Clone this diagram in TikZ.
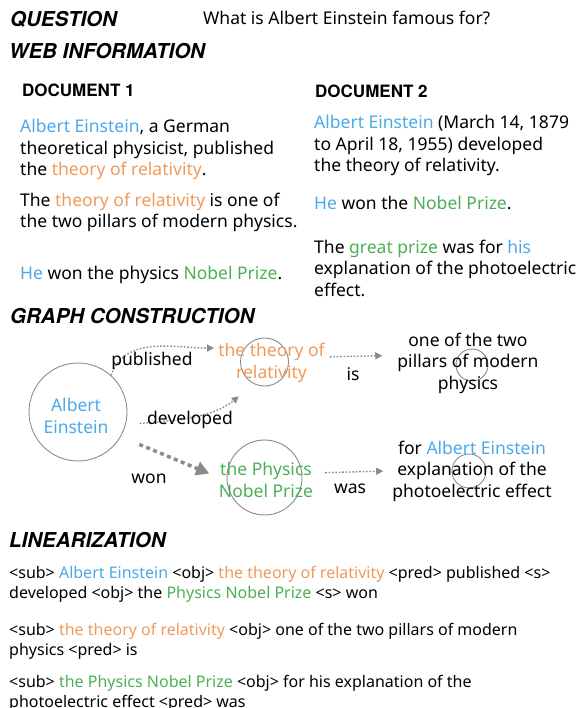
\documentclass[tikz,border=0pt]{standalone}
\usepackage{fontspec}
\setmainfont{Noto Sans}
\newfontfamily\headfont{TeX Gyre Heros}
\usepackage{tikz}
\usetikzlibrary{arrows.meta}

\definecolor{aeblue}{HTML}{4DA9E6}
\definecolor{relorange}{HTML}{EE9A5B}
\definecolor{prizegreen}{HTML}{4DAF55}
\definecolor{edgegray}{HTML}{8A8A8A}

\newcommand{\einst}[1]{\textcolor{aeblue}{#1}}
\newcommand{\theo}[1]{\textcolor{relorange}{#1}}
\newcommand{\prz}[1]{\textcolor{prizegreen}{#1}}

\begin{document}
\begin{tikzpicture}[x=1pt, y=1pt, >={Triangle[length=7pt,width=7pt]},
  head/.style={anchor=base west, inner sep=0pt, font=\headfont\bfseries\itshape\fontsize{20.5}{24}\selectfont},
  dochead/.style={anchor=base west, inner sep=0pt, font=\headfont\bfseries\fontsize{17}{20}\selectfont},
  para/.style={anchor=base west, inner sep=0pt, align=left, font=\fontsize{17.5}{21.5}\selectfont},
  lin/.style={anchor=base west, inner sep=0pt, align=left, font=\fontsize{16}{20}\selectfont},
  gtext/.style={anchor=base, inner sep=1pt, align=center, font=\fontsize{17.5}{21.5}\selectfont},
  ring/.style={circle, draw=edgegray, line width=0.9pt, inner sep=0pt},
  rel/.style={->, draw=edgegray, line width=1.4pt, dash pattern=on 1.6pt off 1.8pt},
  wonrel/.style={-{Triangle[length=13pt,width=14pt]}, draw=edgegray, line width=3.5pt, dash pattern=on 4pt off 3.5pt}]
  \useasboundingbox (0,0) rectangle (584,-708);

  % Question
  \node[head] (qhead) at (10,-27) {QUESTION};
  \node[anchor=base west, inner sep=0pt, font=\fontsize{17.5}{21.5}\selectfont] (qtext) at (203,-25) {What is Albert Einstein famous for?};

  % Web information (multi-line nodes sit on their last baseline)
  \node[head] (webhead) at (9,-59) {WEB INFORMATION};
  \node[dochead] (doc1) at (22,-97) {DOCUMENT 1};
  \node[dochead] (doc2) at (315,-98) {DOCUMENT 2};

  \node[para] (d1a) at (20,-176) {\einst{Albert Einstein}, a German\\theoretical physicist, published\\the \theo{theory of relativity}.};
  \node[para] (d1b) at (20,-228) {The \theo{theory of relativity} is one of\\the two pillars of modern physics.};
  \node[para] (d1c) at (20,-279) {\einst{He} won the physics \prz{Nobel Prize}.};

  \node[para] (d2a) at (314,-172) {\einst{Albert Einstein} (March 14, 1879\\to April 18, 1955) developed\\the theory of relativity.};
  \node[para] (d2b) at (314,-210) {\einst{He} won the \prz{Nobel Prize}.};
  \node[para] (d2c) at (314,-296) {The \prz{great prize} was for \einst{his}\\explanation of the photoelectric\\effect.};

  % Graph construction
  \node[head] (graphhead) at (10,-323) {GRAPH CONSTRUCTION};

  \node[ring, minimum size=98pt] (aec) at (78,-412) {};
  \node[ring, minimum size=48pt] (thc) at (264.5,-362) {};
  \node[ring, minimum size=75pt] (npc) at (264.5,-477.5) {};
  \node[ring, minimum size=32pt] (pilc) at (472,-365) {};
  \node[ring, minimum size=34pt] (expc) at (469,-471) {};

  \node[gtext, text=aeblue] (ae) at (76,-433) {Albert\\Einstein};
  \node[gtext, text=relorange] (thr) at (271.5,-378) {the theory of\\relativity};
  \node[gtext, text=prizegreen] (np) at (266,-497) {the Physics\\Nobel Prize};
  \node[gtext] (pil) at (468,-389) {one of the two\\pillars of modern\\physics};
  \node[gtext] (expl) at (472,-497) {for \einst{Albert Einstein}\\explanation of the\\photoelectric effect};

  % Relations
  \draw[rel, shorten >=3pt] (aec.48) to[out=70, in=180] (thr.165);
  \draw[rel, shorten <=14pt, shorten >=20pt] (aec.-15) to[out=5, in=220] (thr.-130);
  \draw[wonrel, shorten <=20pt, shorten >=19pt] (aec.-30) -- (npc.185);
  \draw[rel, shorten <=4pt, shorten >=14pt] (thr.6) -- (pil.174);
  \draw[rel, shorten <=11pt, shorten >=8pt] (np.8) -- (expl.west);

  \node[gtext] (publ) at (152,-365) {published};
  \node[gtext] (devl) at (190,-424) {developed};
  \node[gtext] (wonl) at (149,-483) {won};
  \node[gtext] (isl) at (353,-380) {is};
  \node[gtext] (wasl) at (350,-493) {was};

  % Linearization
  \node[head] (linhead) at (9,-547) {LINEARIZATION};
  \node[lin] (lin1) at (9,-598) {<sub> \einst{Albert Einstein} <obj> \theo{the theory of relativity} <pred> published <s>\\developed <obj> the \prz{Physics Nobel Prize} <s> won};
  \node[lin] (lin2) at (9,-655) {<sub> \theo{the theory of relativity} <obj> one of the two pillars of modern\\physics <pred> is};
  \node[lin] (lin3) at (9,-707) {<sub> \prz{the Physics Nobel Prize} <obj> for his explanation of the\\photoelectric effect <pred> was};
\end{tikzpicture}
\end{document}
